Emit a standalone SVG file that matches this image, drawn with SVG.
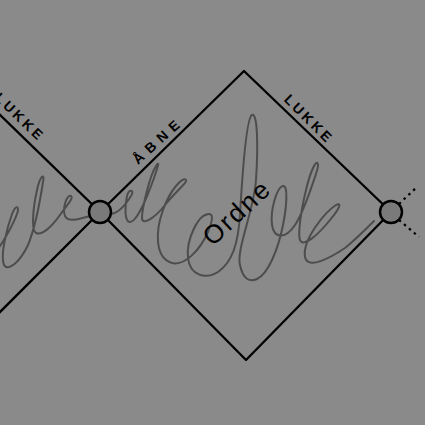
<svg xmlns="http://www.w3.org/2000/svg" width="425" height="425" viewBox="0 0 425 425">
<style>
.edge{fill:none;stroke:#000;stroke-width:2.3;stroke-linecap:round;stroke-linejoin:round}
.dot{fill:none;stroke:#000;stroke-width:2.2;stroke-dasharray:2.5,4}
.scr{fill:none;stroke:#4d4d4d;stroke-width:2;stroke-linecap:round;stroke-linejoin:round}
.node{fill:#7a7a7a;stroke:#000;stroke-width:2.5}
.lbl{font-family:"Liberation Sans",Arial,sans-serif;font-size:14px;font-weight:bold;letter-spacing:3px;fill:#000;text-anchor:middle}
.big{font-family:"Liberation Sans",Arial,sans-serif;font-size:26px;letter-spacing:2px;fill:#000;text-anchor:middle}
</style>
<rect width="425" height="425" fill="#8a8a8a"/>
<g id="scribble">
<path class="scr" d="M -3,250 C 5,240 14,222 17,214 C 20,206 16,204 12,214 C 7,228 0,255 4,265 C 8,272 20,262 28,245 C 35,228 41,195 43,182 C 45,172 40,176 37,190 C 33,208 31,230 36,233 C 42,236 52,226 60,215 C 67,205 74,198 71,196 C 67,194 62,208 65,216 C 68,222 76,220 90,216"/>
<path class="scr" d="M 110,214 C 118,214 126,204 131,196 C 135,190 129,188 127,196 C 125,205 124,222 130,222 C 137,222 148,195 154,178 C 158,166 160,160 156,166 C 150,175 142,208 142,218 C 142,226 155,218 165,205 C 175,192 188,182 186,180 C 183,176 170,190 163,210 C 155,232 155,258 172,263 C 185,266 200,250 208,232 C 212,222 214,214 209,214 C 198,214 186,240 188,258 C 190,275 205,280 218,272 C 232,262 238,245 240,215 C 242,180 246,118 252,115 C 258,112 258,150 256,180 C 254,210 236,250 240,265 C 243,280 250,282 257,279 C 268,274 278,250 283,225 C 287,205 288,185 283,186 C 277,187 270,210 272,225 C 274,238 285,240 295,225 C 305,210 318,168 318,166 C 318,158 312,165 306,190 C 300,215 298,235 300,240 C 303,248 318,235 330,220 C 340,208 342,202 336,205 C 325,212 302,240 305,257 C 308,270 330,258 345,248 C 355,240 365,230 374,221"/>
</g>
<g id="connectors">
<path class="edge" d="M -2,113 L 100,212 L -6,318"/>
<path class="edge" d="M 100,212 L 244,71 L 391,212 L 246,360 Z"/>
<path class="dot" d="M 399,204 L 417,187"/>
<path class="dot" d="M 399,220 L 419,237"/>
</g>
<g id="node-left"><circle class="node" cx="100" cy="212" r="11"/></g>
<g id="node-right"><circle class="node" cx="391" cy="212" r="11"/></g>
<g id="labels">
<text class="lbl" transform="translate(19,116) rotate(44)" x="1.5" y="5">LUKKE</text>
<text class="lbl" transform="translate(156,142) rotate(-42)" x="3" y="5" style="letter-spacing:6px">ÅBNE</text>
<text class="lbl" transform="translate(308,118) rotate(45)" x="1.5" y="5">LUKKE</text>
<text class="big" transform="translate(236,213) rotate(-43)" x="1" y="9">Ordne</text>
</g>
</svg>
